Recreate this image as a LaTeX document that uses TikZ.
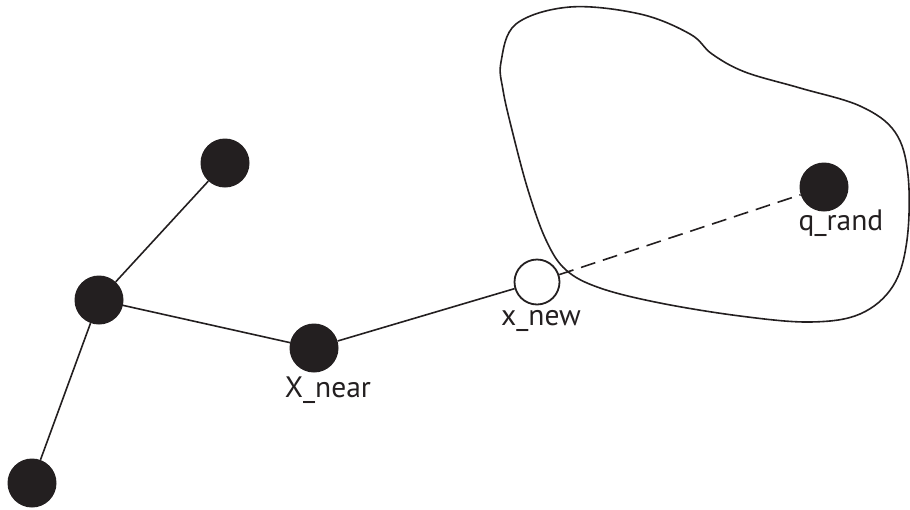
\documentclass[tikz,border=0pt]{standalone}
\usepackage{fontspec}
\setmainfont{PT Sans}
\definecolor{ink}{HTML}{231F20}
\begin{document}
\begin{tikzpicture}[x=1pt,y=-1pt,
  vertex/.style={circle,fill=ink,draw=none,minimum size=49pt,inner sep=0pt},
  newvertex/.style={circle,fill=white,draw=ink,line width=1.8pt,minimum size=45pt,inner sep=0pt},
  edge/.style={draw=ink,line width=1.6pt},
  tag/.style={text=ink,font=\fontsize{29.5}{32}\selectfont,inner sep=0pt}]
\useasboundingbox (0,0) rectangle (910,509);

% region around the random sample
\draw[ink,line width=1.6pt] plot[smooth cycle,tension=0.6] coordinates {
  (501,62) (516,24) (570,7) (640,14) (690,34) (712,54) (745,72) (800,88)
  (860,106) (895,132) (908,175) (907,240) (893,286) (860,314) (810,322)
  (740,316) (660,303) (600,288) (566,270) (546,240) (528,190) (512,130) (503,90)};

% tree vertices
\node[vertex] (top) at (225,163) {};
\node[vertex] (mid) at (99,300) {};
\node[vertex] (bot) at (32,483) {};
\node[vertex] (near) at (314,348) {};
\node[vertex] (rand) at (824,187) {};

% tree edges
\path[edge] (mid) -- (top);
\path[edge] (mid) -- (bot);
\path[edge] (mid) -- (near);

\node[newvertex] (new) at (537,282) {};
\path[edge] (near) -- (new);
\draw[ink,line width=1.6pt,dash pattern=on 15pt off 8pt] (new) -- (rand);

% labels
\node[tag] (lnear) at (328,390) {X\_near};
\node[tag] (lnew) at (541,321) {x\_new};
\node[tag] (lrand) at (841,223) {q\_rand};
\end{tikzpicture}
\end{document}
